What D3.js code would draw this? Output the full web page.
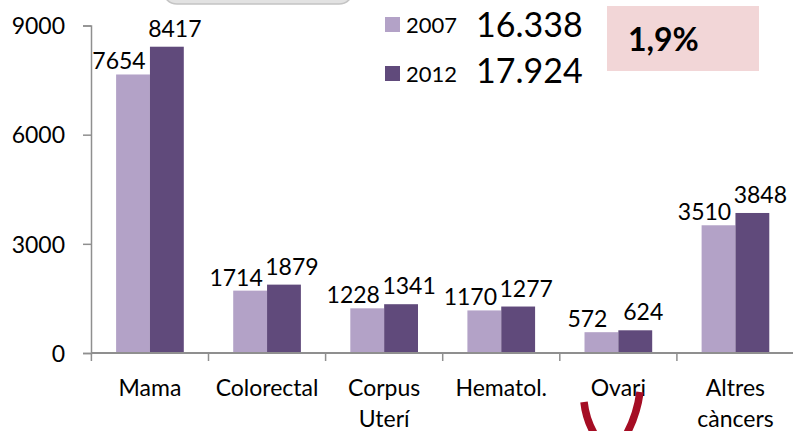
<!DOCTYPE html>
<html>
<head>
<meta charset="utf-8">
<script src="https://cdn.jsdelivr.net/npm/d3@7"></script>
<style>
  body { margin: 0; background: #fff; }
  text { font-family: Lato, "Liberation Sans", sans-serif; fill: #000; }
</style>
</head>
<body>
<svg></svg>
<script>
//--Data
var categories = ["Mama", "Colorectal", "Corpus Uterí", "Hematol.", "Ovari", "Altres càncers"];
var years = ["2007", "2012"];
var values2007 = [7654, 1714, 1228, 1170, 572, 3510];
var values2012 = [8417, 1879, 1341, 1277, 624, 3848];
var totals = ["16.338", "17.924"];
var change = "1,9%";
var yTicks = [0, 3000, 6000, 9000];

//Shared info
var canvas = {
  width: 794,
  height: 431,
  colors: ["#B3A2C7", "#604A7B"],
  axis: "#8f8f8f"
};

var x = d3.scaleBand().domain(categories).range([91.4, 794]);
var x1 = d3.scaleBand().domain(years).range([0, x.bandwidth()]).paddingOuter(0.73);
var y = d3.scaleLinear().domain([0, 9000]).range([353, 25.5]);

var rows = categories.map((c, i) => ({ cat: c, vals: [values2007[i], values2012[i]] }));

let root = d3.select("svg")
  .attr("width", canvas.width)
  .attr("height", canvas.height);

//Decorative shape cut at the top
root.append("rect")
  .attr("x", 163).attr("y", -40)
  .attr("width", 190).attr("height", 44)
  .attr("rx", 14)
  .attr("fill", "#e2e2e2")
  .attr("stroke", "#c4c4c4")
  .attr("stroke-width", 1.5);

//--Bars
let groups = root.append("g")
  .selectAll("g")
  .data(rows)
  .enter()
  .append("g")
  .attr("transform", d => "translate(" + x(d.cat) + ",0)");

groups.selectAll("rect")
  .data(d => d.vals.map((v, j) => ({ year: years[j], v: v, j: j })))
  .enter()
  .append("rect")
  .attr("x", d => x1(d.year))
  .attr("width", x1.bandwidth())
  .attr("y", d => y(d.v))
  .attr("height", d => y(0) - y(d.v))
  .attr("fill", d => canvas.colors[d.j]);

//Value labels (light shifted left, dark shifted right as in the source)
groups.selectAll("text")
  .data(d => d.vals.map((v, j) => ({ year: years[j], v: v, j: j })))
  .enter()
  .append("text")
  .attr("x", d => x1(d.year) + x1.bandwidth() / 2 + (d.j === 0 ? -14 : 8))
  .attr("y", d => y(d.v) + (d.j === 0 ? -5 : -10))
  .attr("text-anchor", "middle")
  .style("font-size", "23px")
  .text(d => d.v);

//--Y axis
let yAxis = root.append("g")
  .attr("transform", "translate(91,0)")
  .call(d3.axisLeft(y).tickValues(yTicks).tickSize(8).tickPadding(18).tickFormat(d3.format("d")));
yAxis.select(".domain").attr("stroke", canvas.axis).attr("stroke-width", 1.5);
yAxis.selectAll(".tick line").attr("stroke", canvas.axis).attr("stroke-width", 1.5);
yAxis.selectAll(".tick text")
  .style("font-size", "23px")
  .style("font-family", "Lato, sans-serif")
  .attr("fill", "#000")
  .attr("dy", "0.36em");

//--X axis
let xAxis = root.append("g");
xAxis.append("line")
  .attr("x1", 91).attr("x2", 793)
  .attr("y1", y(0)).attr("y2", y(0))
  .attr("stroke", canvas.axis)
  .attr("stroke-width", 2);
xAxis.selectAll(".sep")
  .data(categories)
  .enter()
  .append("line")
  .attr("x1", d => x(d)).attr("x2", d => x(d))
  .attr("y1", y(0)).attr("y2", y(0) + 8)
  .attr("stroke", canvas.axis)
  .attr("stroke-width", 1.5);
xAxis.selectAll(".cat")
  .data(categories)
  .enter()
  .append("text")
  .attr("text-anchor", "middle")
  .style("font-size", "23px")
  .each(function(d) {
    let t = d3.select(this);
    d.split(" ").forEach((w, k) => {
      t.append("tspan")
        .attr("x", x(d) + x.bandwidth() / 2)
        .attr("y", 396 + k * 31)
        .text(w);
    });
  });

//--Legend
let legend = root.append("g");
years.forEach((yr, i) => {
  legend.append("rect")
    .attr("x", 385).attr("y", 17 + i * 49)
    .attr("width", 15).attr("height", 15)
    .attr("fill", canvas.colors[i]);
  legend.append("text")
    .attr("x", 406).attr("y", 33 + i * 49)
    .style("font-size", "22px")
    .text(yr);
  legend.append("text")
    .attr("x", 476).attr("y", 37 + i * 46)
    .style("font-size", "34px")
    .text(totals[i]);
});

//Change box
root.append("rect")
  .attr("x", 607).attr("y", 6)
  .attr("width", 152).attr("height", 65)
  .attr("fill", "#F2D6D7");
root.append("text")
  .attr("x", 628).attr("y", 51)
  .style("font-size", "32px")
  .style("font-weight", "bold")
  .text(change);

//Decorative red strokes at the bottom
root.append("path")
  .attr("d", "M584,402 Q586,420 595,435")
  .attr("fill", "none").attr("stroke", "#A50D24").attr("stroke-width", 7.5);
root.append("path")
  .attr("d", "M640,392 Q637,415 626,435")
  .attr("fill", "none").attr("stroke", "#A50D24").attr("stroke-width", 7.5);
</script>
</body>
</html>
